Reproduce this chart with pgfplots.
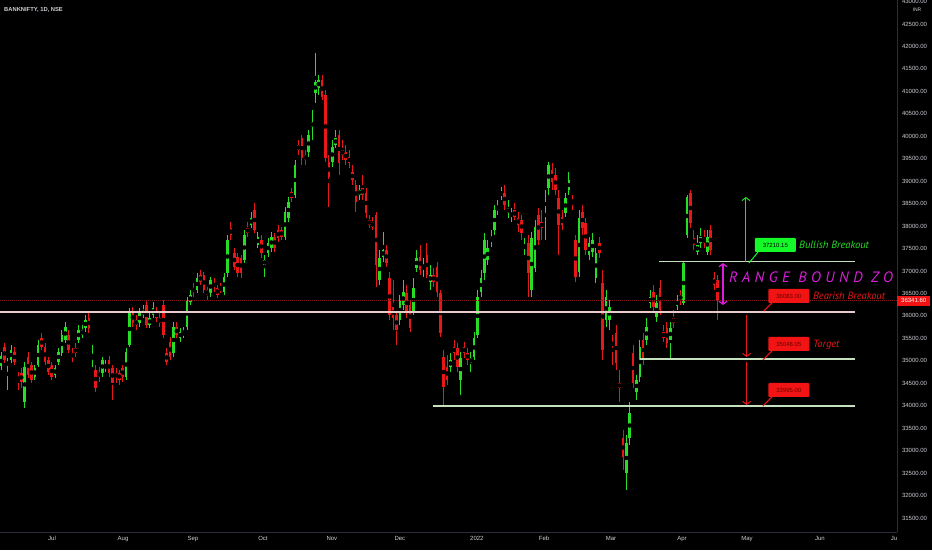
\documentclass[border=0pt]{standalone}
\usepackage{fontspec}
\setmainfont{Liberation Sans}
\newfontfamily\annfont{PT Sans}
\newfontfamily\rangefont{PT Sans}[LetterSpace=30]
\usepackage{pgfplots}
\usepackage{pgfplotstable}
\pgfplotsset{compat=1.18}
\usetikzlibrary{arrows.meta}

\definecolor{bull}{RGB}{38,222,38}
\definecolor{bear}{RGB}{232,24,24}
\definecolor{lvlgreen}{RGB}{196,224,190}
\definecolor{lvlpink}{RGB}{234,202,202}
\definecolor{pricered}{RGB}{130,20,24}
\definecolor{axisgray}{RGB}{42,46,57}
\definecolor{ticktext}{RGB}{205,208,214}
\definecolor{tagred}{RGB}{242,20,20}
\definecolor{boxgreen}{RGB}{20,250,40}
\definecolor{boxtext}{RGB}{110,0,0}
\definecolor{rangemag}{RGB}{220,30,220}

\newcommand\tickfont{\fontsize{6}{7}\selectfont}

% daily candles: index, open, high, low, close
\pgfplotstableread{
d o h l c
0 34884 35196 34795 35107
1 35307 35396 34951 35018
2 34906 35062 34350 34973
3 35018 35352 34951 35241
4 35196 35307 34906 34973
5 34639 34751 34350 34573
6 34728 34839 34394 34528
7 34083 34973 33949 34862
8 35085 35196 34617 34684
9 34906 34973 34506 34573
10 34639 34906 34573 34839
11 34906 35463 34862 35352
12 35508 35619 35241 35307
13 35307 35396 34906 34973
14 35018 35085 34684 34751
15 34906 34973 34573 34639
16 34684 34906 34617 34839
17 34973 35285 34906 35196
18 35174 35686 35107 35575
19 35463 35864 35396 35753
20 35575 35686 35174 35241
21 35174 35285 34973 35062
22 35285 35396 35085 35174
23 35463 35797 35396 35686
24 35575 35797 35508 35686
25 35731 36020 35641 35909
26 35953 36064 35619 35731
27 35062 35352 34862 35085
28 34795 34906 34305 34394
29 34751 34862 34528 34639
30 34728 35085 34639 35018
31 34839 35018 34751 34906
32 35018 35107 34639 34728
33 34839 34906 34127 34506
34 34728 34839 34506 34617
35 34728 34795 34461 34573
36 34839 34906 34528 34639
37 34639 35285 34573 35196
38 35352 36176 35307 36064
39 36087 36198 35753 35842
40 35909 36020 35686 35797
41 35842 36176 35753 36064
42 36020 36243 35953 36131
43 36243 36354 35731 35797
44 35797 36064 35731 35953
45 36020 36309 35953 36176
46 36087 36198 35864 35953
47 35953 36064 35753 35842
48 36243 36354 35508 35575
49 35174 35285 34906 34973
50 35419 35530 35018 35085
51 35174 35864 35085 35753
52 35753 35864 35508 35575
53 35508 35731 35419 35641
54 35575 35753 35508 35641
55 35753 36421 35686 36354
56 36309 36577 36243 36465
57 36621 36733 36421 36532
58 36577 36955 36510 36844
59 36911 37022 36688 36755
60 36911 36978 36510 36577
61 36577 36643 36354 36465
62 36510 36866 36421 36799
63 36733 36844 36532 36643
64 36621 36688 36398 36465
65 36643 36733 36510 36577
66 36532 36955 36465 36866
67 36955 37801 36866 37690
68 37957 38091 37690 37801
69 37401 37512 37022 37089
70 37312 37401 36866 36955
71 37290 37356 36844 36955
72 37245 37913 37178 37801
73 37957 38091 37757 37846
74 38024 38314 37957 38180
75 38358 38514 37846 37913
76 37579 37868 37512 37757
77 37690 37801 37290 37401
78 37134 37356 36866 37245
79 37401 37735 37312 37623
80 37512 37868 37423 37757
81 37757 37846 37423 37512
82 37913 38024 37646 37735
83 37913 37980 37690 37757
84 37757 38425 37690 38314
85 38180 38648 38091 38536
86 38759 38848 38536 38625
87 38692 39472 38625 39360
88 39806 39917 39583 39695
89 39962 40029 39360 39516
90 39583 39695 39360 39472
91 39650 40140 39539 40029
92 40207 40586 39917 40318
93 40964 41855 40741 41209
94 41075 41365 40919 41253
95 41253 41365 40808 40875
96 40919 41031 39427 39516
97 39427 39583 38425 39093
98 39427 39917 39316 39761
99 39806 40140 39739 39962
100 40029 40140 39138 39405
101 39695 39917 39472 39583
102 39650 39806 39360 39472
103 39539 39695 39294 39405
104 39204 39360 38915 39027
105 38915 39027 38314 38536
106 38692 38915 38581 38804
107 38848 39138 38581 38692
108 38737 38848 38180 38291
109 38136 38247 37957 38024
110 38091 38202 37913 37980
111 38247 38314 36643 37134
112 36799 37468 36688 37290
113 37312 37868 37200 37468
114 37468 37579 37089 37178
115 36844 36978 35909 36020
116 36198 36799 35686 35953
117 36020 36087 35352 35686
118 35909 36465 35797 36354
119 36243 36799 36131 36532
120 36510 36688 35953 36064
121 36243 36354 35641 35731
122 36087 36844 36020 36621
123 37067 37468 36978 37290
124 37312 37579 36911 37022
125 37067 37290 36866 37134
126 37356 37623 36844 36911
127 36755 37134 36577 36911
128 36911 37067 36643 36755
129 37089 37200 36421 36532
130 36510 36577 35530 35619
131 35085 35241 33972 34417
132 34862 35129 34461 34573
133 34862 35174 34751 35018
134 35307 35463 35018 35174
135 35285 35396 34751 34862
136 34573 35196 34239 35062
137 35307 35419 35062 35174
138 35174 35285 34906 35018
139 34951 35196 34751 35062
140 35085 35641 35018 35508
141 35575 36577 35508 36421
142 36532 37022 36421 36844
143 36955 37846 36799 37690
144 37245 37690 37134 37512
145 37646 37913 37535 37735
146 37913 38470 37801 38358
147 38358 38581 38247 38425
148 38692 38870 38581 38759
149 38737 38915 38358 38470
150 38291 38581 38180 38403
151 38247 38403 38091 38270
152 38358 38514 38136 38202
153 38180 38314 37868 38024
154 38136 38247 37690 37846
155 37512 37735 37356 37579
156 37623 37801 36421 36955
157 36577 37868 36421 37735
158 37067 38136 36978 37980
159 38247 38403 37579 37690
160 38091 38358 37690 37957
161 38470 38804 37690 38514
162 38848 39427 38692 39360
163 39249 39405 38804 38982
164 39138 39294 38692 38804
165 38625 38804 37356 38024
166 38202 38358 37913 38024
167 38291 38737 38202 38625
168 38804 39204 38692 39027
169 38581 38692 38358 38514
170 37690 37801 36755 36866
171 36978 38358 36866 38180
172 38314 38470 37801 37957
173 38069 38180 37356 37468
174 37356 37757 37245 37623
175 37423 37846 37312 37690
176 36844 37512 36733 37401
177 37623 37757 37290 37401
178 36733 37022 35018 35241
179 35909 36577 35753 36421
180 35909 36354 35686 36198
181 35396 35575 34906 35352
182 35619 35797 34795 34951
183 34506 34795 34083 34394
184 33281 33459 32568 32858
185 32501 33348 32123 33170
186 33281 34083 33125 33838
187 35174 35352 34394 34506
188 34305 34684 34127 34573
189 34639 35463 34528 35307
190 35463 35619 34906 35018
191 35463 35953 35352 35753
192 36287 36577 36176 36421
193 36532 36688 36087 36198
194 35975 36465 35864 36287
195 36621 36799 36020 36131
196 35641 35797 35419 35508
197 35731 35864 35285 35396
198 35463 35864 35018 35731
199 35953 36131 35731 35842
200 36220 36465 36131 36354
201 36465 36577 36243 36354
202 36287 37200 36243 37178
203 37801 38692 37735 38648
204 38737 38804 37957 38069
205 37735 37913 37468 37579
206 37423 37801 37356 37579
207 37623 37957 37512 37757
208 37735 37913 37512 37623
209 37423 37913 37356 37757
210 37913 38024 37356 37468
211 36844 36978 36577 36688
212 36799 36911 35909 36354
}\candles

\begin{document}
\begin{tikzpicture}
\useasboundingbox (0pt,-18pt) rectangle (932pt,532pt);
\fill[black] (0pt,-18pt) rectangle (932pt,532pt);

\begin{axis}[
    at={(0pt,0pt)}, anchor=south west,
    scale only axis,
    width=897pt, height=532pt,
    xmin=-0.3, xmax=265.1,
    ymin=31187, ymax=43035,
    axis x line*=bottom,
    axis y line*=right,
    x axis line style={-},
    y axis line style={-},
    axis line style={draw=axisgray, line width=0.7pt},
    major tick length=0pt,
    clip mode=individual,
    xtick={15.1,36.1,56.8,77.5,97.9,118.0,140.8,160.7,180.5,201.5,220.7,242.3,264.2},
    xticklabels={Jul,Aug,Sep,Oct,Nov,Dec,2022,Feb,Mar,Apr,May,Jun,Ju},
    ytick={31500,32000,32500,33000,33500,34000,34500,35000,35500,36000,36500,37000,37500,38000,38500,39000,39500,40000,40500,41000,41500,42000,42500,43000},
    yticklabels={31500.00,32000.00,32500.00,33000.00,33500.00,34000.00,34500.00,35000.00,35500.00,36000.00,36500.00,37000.00,37500.00,38000.00,38500.00,39000.00,39500.00,40000.00,40500.00,41000.00,41500.00,42000.00,42500.00,43000.00},
    ticklabel style={font=\tickfont, text=ticktext},
    yticklabel style={xshift=1.5pt},
    xticklabel style={yshift=-1pt},
]

% wicks
\addplot[only marks, mark=none, forget plot,
    restrict expr to domain={\thisrow{c}-\thisrow{o}}{0:100000},
    error bars/.cd, y dir=both, y explicit, error mark=none,
    error bar style={draw=bull, line width=0.8pt}]
    table[x=d, y expr={(\thisrow{h}+\thisrow{l})/2}, y error expr={(\thisrow{h}-\thisrow{l})/2}] {\candles};
\addplot[only marks, mark=none, forget plot,
    restrict expr to domain={\thisrow{o}-\thisrow{c}}{1:100000},
    error bars/.cd, y dir=both, y explicit, error mark=none,
    error bar style={draw=bear, line width=0.8pt}]
    table[x=d, y expr={(\thisrow{h}+\thisrow{l})/2}, y error expr={(\thisrow{h}-\thisrow{l})/2}] {\candles};

% bodies
\addplot[only marks, mark=none, forget plot,
    restrict expr to domain={\thisrow{c}-\thisrow{o}}{0:100000},
    error bars/.cd, y dir=both, y explicit, error mark=none,
    error bar style={draw=bull, line width=2.6pt}]
    table[x=d, y expr={(\thisrow{o}+\thisrow{c})/2}, y error expr={max(abs(\thisrow{c}-\thisrow{o})/2,12)}] {\candles};
\addplot[only marks, mark=none, forget plot,
    restrict expr to domain={\thisrow{o}-\thisrow{c}}{1:100000},
    error bars/.cd, y dir=both, y explicit, error mark=none,
    error bar style={draw=bear, line width=2.6pt}]
    table[x=d, y expr={(\thisrow{o}+\thisrow{c})/2}, y error expr={max(abs(\thisrow{c}-\thisrow{o})/2,12)}] {\candles};

% levels
\addplot[pricered, line width=0.5pt, dash pattern=on 1pt off 1pt, forget plot]
    coordinates {(-0.3,36341.6) (265.1,36341.6)};
\addplot[lvlpink, line width=2.2pt, forget plot] coordinates {(-0.3,36083) (252.7,36083)};
\addplot[lvlgreen, line width=1.8pt, forget plot] coordinates {(194.7,37210.15) (252.7,37210.15)};
\addplot[lvlgreen, line width=1.8pt, forget plot] coordinates {(189.1,35048.05) (252.7,35048.05)};
\addplot[lvlgreen, line width=1.8pt, forget plot] coordinates {(127.8,33995) (252.7,33995)};

% arrows
\draw[bull, line width=1pt, -{Straight Barb[length=3pt,width=8pt]}]
    (axis cs:220.4,37200) -- (axis cs:220.4,38648);
\draw[rangemag, line width=1.2pt, {Straight Barb[length=3pt,width=8pt]}-{Straight Barb[length=3pt,width=8pt]}]
    (axis cs:213.6,36243) -- (axis cs:213.6,37178);
\draw[bear, line width=1pt, -{Straight Barb[length=3pt,width=8pt]}]
    (axis cs:220.6,36020) -- (axis cs:220.6,35085);
\draw[bear, line width=1pt, -{Straight Barb[length=3pt,width=8pt]}]
    (axis cs:220.6,34973) -- (axis cs:220.6,34016);

% callout tails
\draw[boxgreen, line width=1pt] (axis cs:224.0,37423) -- (axis cs:221.3,37178);
\draw[tagred, line width=1pt] (axis cs:228.1,36287) -- (axis cs:225.7,36109);
\draw[tagred, line width=1pt] (axis cs:228.1,35218) -- (axis cs:225.4,35018);
\draw[tagred, line width=1pt] (axis cs:228.1,34194) -- (axis cs:225.4,33994);

% callout boxes
\node[fill=boxgreen, text=black, minimum width=41pt, minimum height=14pt, inner sep=0pt,
    rounded corners=1pt, font=\tickfont] at (axis cs:229.1,37579) {37210.15};
\node[fill=tagred, text=boxtext, minimum width=41pt, minimum height=14pt, inner sep=0pt,
    rounded corners=1pt, font=\tickfont] at (axis cs:233.1,36443) {36083.00};
\node[fill=tagred, text=boxtext, minimum width=41pt, minimum height=14pt, inner sep=0pt,
    rounded corners=1pt, font=\tickfont] at (axis cs:233.1,35374) {35048.05};
\node[fill=tagred, text=boxtext, minimum width=41pt, minimum height=14pt, inner sep=0pt,
    rounded corners=1pt, font=\tickfont] at (axis cs:233.1,34350) {33995.00};

% labels
\node[anchor=west, inner sep=0pt, text=bull, font={\annfont\itshape\fontsize{10.5}{12}\selectfont}]
    at (axis cs:236.1,37579) {Bullish Breakout};
\node[anchor=west, inner sep=0pt, text=bear, font={\annfont\itshape\fontsize{10.5}{12}\selectfont}]
    at (axis cs:240.2,36443) {Bearish Breakout};
\node[anchor=west, inner sep=0pt, text=bear, font={\annfont\itshape\fontsize{10.5}{12}\selectfont}]
    at (axis cs:240.2,35352) {Target};
\begin{scope}
\clip (axis cs:-0.3,31187) rectangle (axis cs:265.1,43035);
\node[anchor=west, inner sep=0pt, text=rangemag, font={\rangefont\itshape\fontsize{15}{17}\selectfont}]
    at (axis cs:215.4,36866) {RANGE BOUND ZO};
\end{scope}

% last price tag
\node[fill=tagred, text=white, anchor=west, minimum width=33pt, minimum height=10pt,
    inner sep=0pt, font=\tickfont] at (axis cs:265.1,36341.6) {36341.60};
\end{axis}

\node[anchor=west, inner sep=0pt, text=ticktext, font={\bfseries\fontsize{5.8}{7}\selectfont}]
    at (4pt,522pt) {BANKNIFTY, 1D, NSE};
\node[inner sep=0pt, text=ticktext, font={\fontsize{5}{6}\selectfont}] at (917pt,522pt) {INR};
\end{tikzpicture}
\end{document}
